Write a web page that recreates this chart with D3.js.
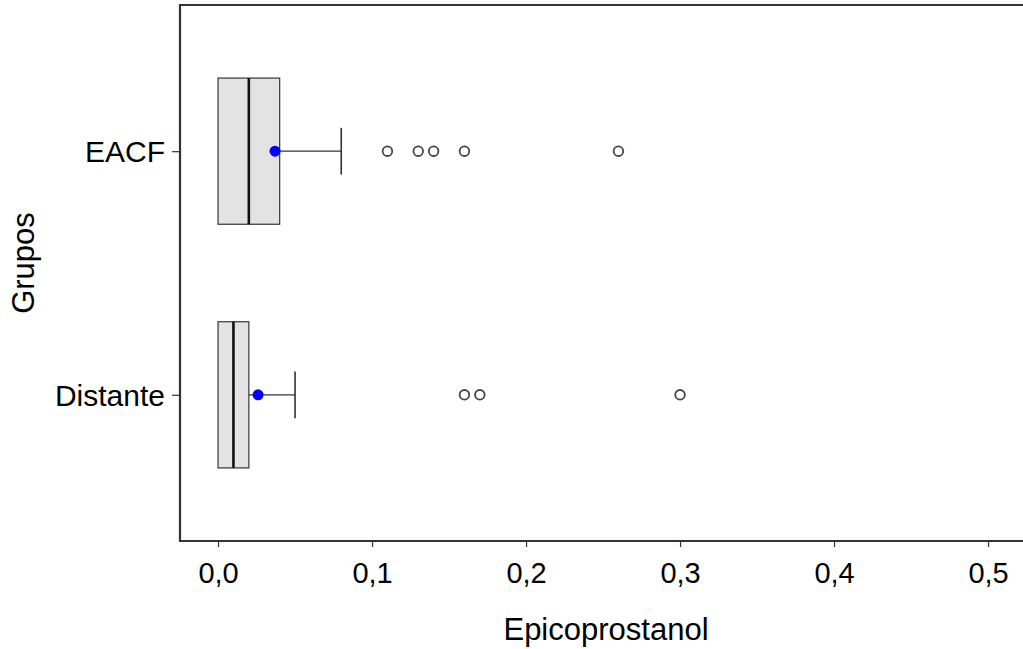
<!DOCTYPE html>
<html>
<head>
<meta charset="utf-8">
<script src="https://cdn.jsdelivr.net/npm/d3@7/dist/d3.min.js"></script>
<style>
  body { margin: 0; background: #fff; }
  text { font-family: "Liberation Sans", Arial, sans-serif; }
</style>
</head>
<body>
<svg id="chart" width="1023" height="649"></svg>
<script>
// groups, top to bottom
var groups = ['EACF', 'Distante'];
var q1 = [0.0, 0.0];
var medians = [0.02, 0.01];
var q3 = [0.04, 0.02];
var whiskerHi = [0.08, 0.05];
var means = [0.037, 0.026];
var outliers = [
    [0.11, 0.13, 0.14, 0.16, 0.26],
    [0.16, 0.17, 0.30]
];
var xTicks = [0, 0.1, 0.2, 0.3, 0.4, 0.5];

var svg = d3.select('#chart'),
    panelLeft = 180, panelTop = 5, panelBottom = 541, panelRight = 1023;

var x = d3.scaleLinear().domain([-0.0247, 0.5227]).range([panelLeft, panelRight]);
// discrete positions with ggplot style 0.6 expansion
var y = d3.scaleLinear().domain([0.4, 2.6]).range([panelTop, panelBottom]);
var pos = function (i) { return y(i + 1); };
var boxHalf = y(1.3) - y(1);
var capHalf = y(1.1) - y(1) - 1;

var xAxis = d3.axisBottom(x).tickValues(xTicks).tickSize(6).tickPadding(15)
    .tickFormat(function (d) { return d3.format('.1f')(d).replace('.', ','); });
var gx = svg.append('g').attr('transform', 'translate(0,' + panelBottom + ')').call(xAxis);
gx.select('.domain').remove();
gx.selectAll('line').attr('stroke', '#333').attr('stroke-width', 1.2);
gx.selectAll('text').attr('fill', '#000').style('font-size', '29px');

var yAxis = d3.axisLeft(d3.scalePoint().domain(groups).range([pos(0), pos(1)]))
    .tickSize(8).tickPadding(7);
var gy = svg.append('g').attr('transform', 'translate(' + panelLeft + ',0)').call(yAxis);
gy.select('.domain').remove();
gy.selectAll('line').attr('stroke', '#333').attr('stroke-width', 1.2);
gy.selectAll('text').attr('fill', '#000').style('font-size', '30px').attr('dy', '0.36em');

// panel border (right edge falls outside the picture)
svg.append('path')
    .attr('d', 'M' + (panelRight + 5) + ',' + panelTop + 'H' + panelLeft + 'V' + panelBottom + 'H' + (panelRight + 5))
    .attr('fill', 'none').attr('stroke', '#333').attr('stroke-width', 2.2);

var boxes = svg.append('g').selectAll('g').data(groups).join('g');

boxes.append('line')
    .attr('x1', function (d, i) { return x(q3[i]); })
    .attr('x2', function (d, i) { return x(whiskerHi[i]); })
    .attr('y1', function (d, i) { return pos(i); })
    .attr('y2', function (d, i) { return pos(i); })
    .attr('stroke', '#333').attr('stroke-width', 1.3);

boxes.append('line')
    .attr('x1', function (d, i) { return x(whiskerHi[i]); })
    .attr('x2', function (d, i) { return x(whiskerHi[i]); })
    .attr('y1', function (d, i) { return pos(i) - capHalf; })
    .attr('y2', function (d, i) { return pos(i) + capHalf; })
    .attr('stroke', '#333').attr('stroke-width', 1.6);

boxes.append('rect')
    .attr('x', function (d, i) { return x(q1[i]); })
    .attr('width', function (d, i) { return x(q3[i]) - x(q1[i]); })
    .attr('y', function (d, i) { return pos(i) - boxHalf; })
    .attr('height', boxHalf * 2)
    .attr('fill', '#e3e3e3').attr('stroke', '#444').attr('stroke-width', 1.3);

boxes.append('line')
    .attr('x1', function (d, i) { return x(medians[i]); })
    .attr('x2', function (d, i) { return x(medians[i]); })
    .attr('y1', function (d, i) { return pos(i) - boxHalf; })
    .attr('y2', function (d, i) { return pos(i) + boxHalf; })
    .attr('stroke', '#111').attr('stroke-width', 2.6);

boxes.each(function (d, i) {
    d3.select(this).selectAll('circle.out').data(outliers[i]).join('circle')
        .attr('class', 'out')
        .attr('cx', function (v) { return x(v); })
        .attr('cy', pos(i))
        .attr('r', 4.8)
        .attr('fill', 'none').attr('stroke', '#444').attr('stroke-width', 1.8);
});

boxes.append('circle')
    .attr('cx', function (d, i) { return x(means[i]); })
    .attr('cy', function (d, i) { return pos(i); })
    .attr('r', 5.5)
    .attr('fill', '#0000ff');

svg.append('text')
    .attr('x', 606).attr('y', 640)
    .attr('text-anchor', 'middle')
    .style('font-size', '31px')
    .text('Epicoprostanol');

svg.append('text')
    .attr('transform', 'translate(34,' + ((panelTop + panelBottom) / 2 - 10) + ') rotate(-90)')
    .attr('text-anchor', 'middle')
    .style('font-size', '31px')
    .text('Grupos');
</script>
</body>
</html>
